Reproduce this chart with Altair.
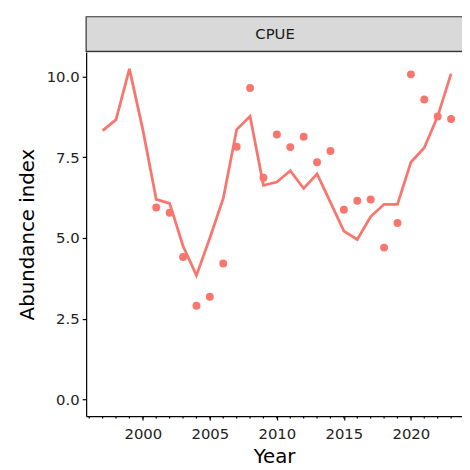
import altair as alt
import pandas as pd

line_years = list(range(1997, 2024))
line_values = [8.32, 8.66, 10.23, 8.35, 6.19, 6.07, 4.75, 3.84, 5.0, 6.22, 8.35, 8.76,
               6.63, 6.73, 7.08, 6.53, 6.98, 6.1, 5.21, 4.95, 5.66, 6.04, 6.04, 7.34,
               7.79, 8.76, 10.08]

point_years = list(range(2001, 2024))
point_values = [5.94, 5.78, 4.41, 2.90, 3.18, 4.21, 7.82, 9.64, 6.86, 8.20, 7.81, 8.13,
                7.34, 7.69, 5.87, 6.15, 6.19, 4.70, 5.46, 10.06, 9.28, 8.76, 8.68]

minor_years = list(range(1996, 2024))
panel_label = "CPUE"

W, H = 380, 368
color = "#F8766D"
font = "DejaVu Sans"

line_df = pd.DataFrame({"Year": line_years, "Index": line_values})
point_df = pd.DataFrame({"Year": point_years, "Index": point_values})
minor_df = pd.DataFrame({"Year": minor_years})
strip_df = pd.DataFrame({"label": [panel_label]})

xscale = alt.Scale(domain=[1995.77, 1995.77 + W / 13.55], nice=False, zero=False)
yscale = alt.Scale(domain=[-0.51, 10.75], nice=False, zero=False)

xaxis = alt.Axis(values=[2000, 2005, 2010, 2015, 2020], format="d", title="Year",
                 grid=False, tickSize=4, tickColor="black", domainColor="black",
                 domainWidth=1.2, tickWidth=1.2, labelFontSize=15, labelColor="#222",
                 labelPadding=7, titleFontSize=20, titleFontWeight="normal",
                 titleColor="black", titlePadding=5, labelFont=font, titleFont=font)
yaxis = alt.Axis(values=[0, 2.5, 5, 7.5, 10], format=".1f", title="Abundance index",
                 grid=False, tickSize=4, tickColor="black", domainColor="black",
                 domainWidth=1.2, tickWidth=1.2, labelFontSize=15, labelColor="#222",
                 labelPadding=3, titleFontSize=20, titleFontWeight="normal",
                 titleColor="black", titlePadding=9, labelFont=font, titleFont=font)

line = alt.Chart(line_df).mark_line(color=color, strokeWidth=2.8).encode(
    x=alt.X("Year:Q", scale=xscale, axis=xaxis),
    y=alt.Y("Index:Q", scale=yscale, axis=yaxis),
)
points = alt.Chart(point_df).mark_circle(color=color, size=64, opacity=1).encode(
    x=alt.X("Year:Q", scale=xscale),
    y=alt.Y("Index:Q", scale=yscale),
)
minor = alt.Chart(minor_df).mark_rule(color="black", strokeWidth=1.2).encode(
    x=alt.X("Year:Q", scale=xscale),
    y=alt.value(H),
    y2=alt.value(H + 2.5),
)
strip = alt.Chart(strip_df).mark_rect(fill="#D9D9D9", stroke="#333333", strokeWidth=1.2).encode(
    x=alt.value(0), x2=alt.value(W + 5), y=alt.value(-35.7), y2=alt.value(-0.7)
)
strip_text = alt.Chart(strip_df).mark_text(fontSize=15, font=font, color="#1a1a1a",
                                           baseline="middle", align="center").encode(
    x=alt.value(191), y=alt.value(-18), text="label:N"
)

chart = alt.layer(strip, strip_text, minor, line, points).properties(
    width=W, height=H,
    autosize=alt.AutoSizeParams(type="none"),
    padding={"left": 79, "top": 42, "right": 0, "bottom": 50},
).configure_view(stroke=None).configure(background="white")

chart.save("out.html", embed_options={"renderer": "svg", "actions": False})
